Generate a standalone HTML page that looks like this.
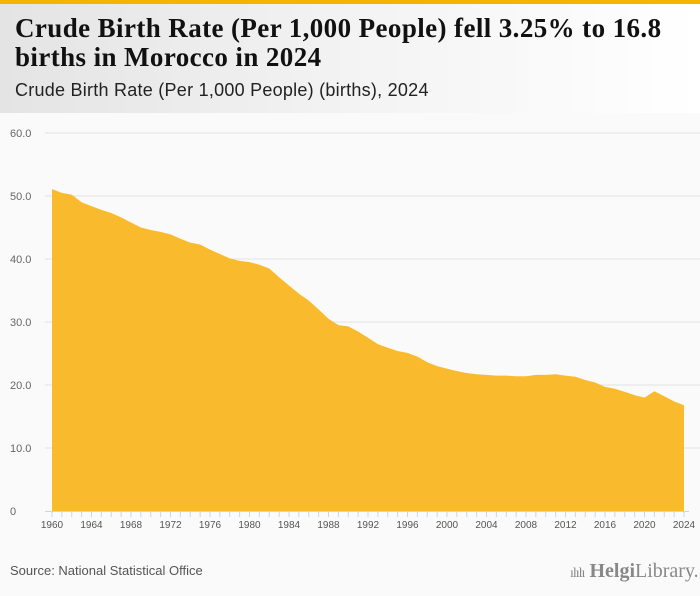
<!DOCTYPE html>
<html><head><meta charset="utf-8"><style>
body{margin:0;width:700px;height:596px;background:#fafafa;font-family:"Liberation Sans",sans-serif;position:relative;overflow:hidden}
#topbar{position:absolute;left:0;top:0;width:700px;height:4px;background:#f5b400}
#header{position:absolute;left:0;top:4px;width:700px;height:109px;background:linear-gradient(90deg,#e4e4e4,#f3f3f3 50%,#ffffff)}
#title{position:absolute;left:15px;top:14px;font-family:"Liberation Serif",serif;font-weight:bold;font-size:27px;line-height:29px;color:#111;letter-spacing:0.4px;white-space:nowrap}
#subtitle{position:absolute;left:15px;top:80px;font-size:18px;letter-spacing:0.25px;color:#222}
#source{position:absolute;left:10px;top:563px;font-size:13px;color:#555}
#logo{position:absolute;left:570px;top:560px;font-family:"Liberation Serif",serif;font-size:20px;color:#888}
</style></head><body>
<div id="topbar"></div>
<div id="header"></div>
<div id="title">Crude Birth Rate (Per 1,000 People) fell 3.25% to 16.8<br>births in Morocco in 2024</div>
<div id="subtitle">Crude Birth Rate (Per 1,000 People) (births), 2024</div>
<svg id="chart" width="700" height="596" style="position:absolute;left:0;top:0"></svg>
<div id="source">Source: National Statistical Office</div>
<div id="logo"><span style="font-size:14px;letter-spacing:-1px">ılılı</span> <b style="font-weight:bold">Helgi</b>Library.</div>
<script>
const years=[];for(let y=1960;y<=2024;y++)years.push(y);
const values=[51.1,50.5,50.2,49.0,48.4,47.8,47.3,46.6,45.8,45.0,44.6,44.3,43.9,43.2,42.6,42.3,41.5,40.8,40.1,39.7,39.5,39.1,38.5,37.1,35.8,34.5,33.4,32.0,30.5,29.5,29.3,28.5,27.5,26.5,25.9,25.4,25.1,24.5,23.6,23.0,22.6,22.2,21.9,21.7,21.6,21.5,21.5,21.4,21.4,21.6,21.6,21.7,21.5,21.3,20.8,20.4,19.7,19.4,18.9,18.4,18.0,19.0,18.2,17.4,16.8];
const yTicks=[0,10,20,30,40,50,60];
const yTickLabels=["0","10.0","20.0","30.0","40.0","50.0","60.0"];
const xLabelYears=[1960,1964,1968,1972,1976,1980,1984,1988,1992,1996,2000,2004,2008,2012,2016,2020,2024];
const svg=document.getElementById('chart');const NS='http://www.w3.org/2000/svg';
const X=y=>52+(y-1960)*(684-52)/64;
const Y=v=>511-v*6.3;
function mk(t,a){const e=document.createElementNS(NS,t);for(const k in a)e.setAttribute(k,a[k]);svg.appendChild(e);return e;}
yTicks.forEach((t,i)=>{
 if(t>0){const l=mk('line',{x1:45,x2:700,y1:Y(t),y2:Y(t),stroke:'#e2e2e2','stroke-width':1});
 
 }
 const tx=mk('text',{x:10,y:Y(t)+4,'font-size':11,fill:'#666','font-family':'Liberation Sans, sans-serif'});
 tx.textContent=yTickLabels[i];
 
 
});
let d='M'+X(years[0])+','+Y(0);
years.forEach((y,i)=>{d+=' L'+X(y).toFixed(1)+','+Y(values[i]).toFixed(1);});
d+=' L'+X(years[years.length-1])+','+Y(0)+' Z';
const area=mk('path',{d:d,fill:'#f9bb2d'});


const ax=mk('line',{x1:45,x2:689,y1:511.5,y2:511.5,stroke:'#c8d4e8','stroke-width':1});


years.forEach(y=>{const t=mk('line',{x1:X(y),x2:X(y),y1:511,y2:517,stroke:'#c8d4e8','stroke-width':1});
 
 });
xLabelYears.forEach(y=>{const t=mk('text',{x:X(y),y:528,'text-anchor':'middle','font-size':10,fill:'#555','font-family':'Liberation Sans, sans-serif'});
 t.textContent=y;
 
 });
</script>
</body></html>
